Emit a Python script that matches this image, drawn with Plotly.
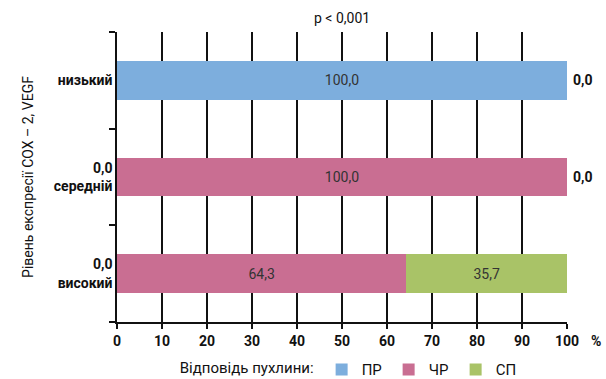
import plotly.graph_objects as go

categories = ["низький", "середній", "високий"]
series_names = ["ПР", "ЧР", "СП"]
pr_values = [100.0, 0.0, 0.0]
chr_values = [0.0, 100.0, 64.3]
sp_values = [0.0, 0.0, 35.7]
colors = ["#7DAEDD", "#C96E92", "#A9C367"]
x_ticks = [0, 10, 20, 30, 40, 50, 60, 70, 80, 90, 100]

FONT = "Roboto, Liberation Sans, sans-serif"

def fmt(v):
    return f"{v:.1f}".replace(".", ",")

fig = go.Figure()
for name, vals, col in zip(series_names, [pr_values, chr_values, sp_values], colors):
    fig.add_trace(go.Bar(
        y=categories, x=vals, name=name, orientation="h",
        marker=dict(color=col, line=dict(width=0)),
        text=[fmt(v) if v > 0 else "" for v in vals],
        textposition="inside", insidetextanchor="middle",
        textfont=dict(family=FONT, size=14, color="#333333"),
        hoverinfo="skip",
    ))

# y tick labels: zero ПР value shown above category name
ticktext = []
for c, v in zip(categories, pr_values):
    ticktext.append(("<b>" + fmt(v) + "</b><br>" if v == 0 else "") + "<b>" + c + "</b>")

annotations = []
for c, v in zip(categories, sp_values):
    if v == 0:
        annotations.append(dict(x=100, y=c, xref="x", yref="y", text="<b>" + fmt(v) + "</b>",
                                showarrow=False, xanchor="left", xshift=4,
                                font=dict(family=FONT, size=14, color="#111")))
annotations.append(dict(x=100, y=0, xref="x", yref="paper", yshift=-19, xshift=22,
                        text="<b>%</b>", showarrow=False, xanchor="left", yanchor="middle",
                        font=dict(family=FONT, size=14, color="#111")))
annotations.append(dict(x=-0.198, y=0.5, xref="paper", yref="paper", textangle=-90,
                        text="Рівень експресії COX – 2, VEGF", showarrow=False,
                        xanchor="center", yanchor="middle",
                        font=dict(family=FONT, size=14, color="#111")))
annotations.append(dict(x=0.5, y=1, xref="paper", yref="paper", yshift=14,
                        text="p &lt; 0,001", showarrow=False, xanchor="center", yanchor="middle",
                        font=dict(family=FONT, size=14, color="#111")))

fig.update_layout(
    barmode="stack", bargap=0.6,
    width=606, height=379,
    margin=dict(l=117, r=39, t=32, b=57, autoexpand=False),
    plot_bgcolor="white", paper_bgcolor="white",
    font=dict(family=FONT, size=14, color="#111"),
    separators=", ",
    showlegend=True,
    legend=dict(orientation="h", x=0.135, xanchor="left", y=-0.165, yanchor="middle",
                title=dict(text="Відповідь пухлини:", font=dict(family=FONT, size=15)),
                font=dict(family=FONT, size=15), itemwidth=30, traceorder="normal",
                entrywidth=22, entrywidthmode="pixels",
                tracegroupgap=0, bgcolor="rgba(0,0,0,0)"),
    annotations=annotations,
)
fig.update_xaxes(range=[0, 100], tickvals=x_ticks, ticktext=[f"<b>{t}</b>" for t in x_ticks],
                 showgrid=True, gridcolor="#111", gridwidth=1.5,
                 showline=True, linecolor="#111", linewidth=1.5,
                 ticks="outside", ticklen=5, tickcolor="#111", tickwidth=1.5,
                 zeroline=False, fixedrange=True, automargin=False)
fig.update_yaxes(categoryorder="array", categoryarray=categories, autorange="reversed",
                 tickvals=categories, ticktext=ticktext,
                 showline=True, linecolor="#111", linewidth=1.5,
                 ticks="outside", tickson="boundaries", ticklen=6, tickcolor="#111", tickwidth=1.5,
                 showgrid=False, zeroline=False, fixedrange=True, automargin=False)

fig.write_html("out.html", config={"displayModeBar": False},
               post_script="document.body.style.margin='0';document.body.style.overflow='hidden';")
